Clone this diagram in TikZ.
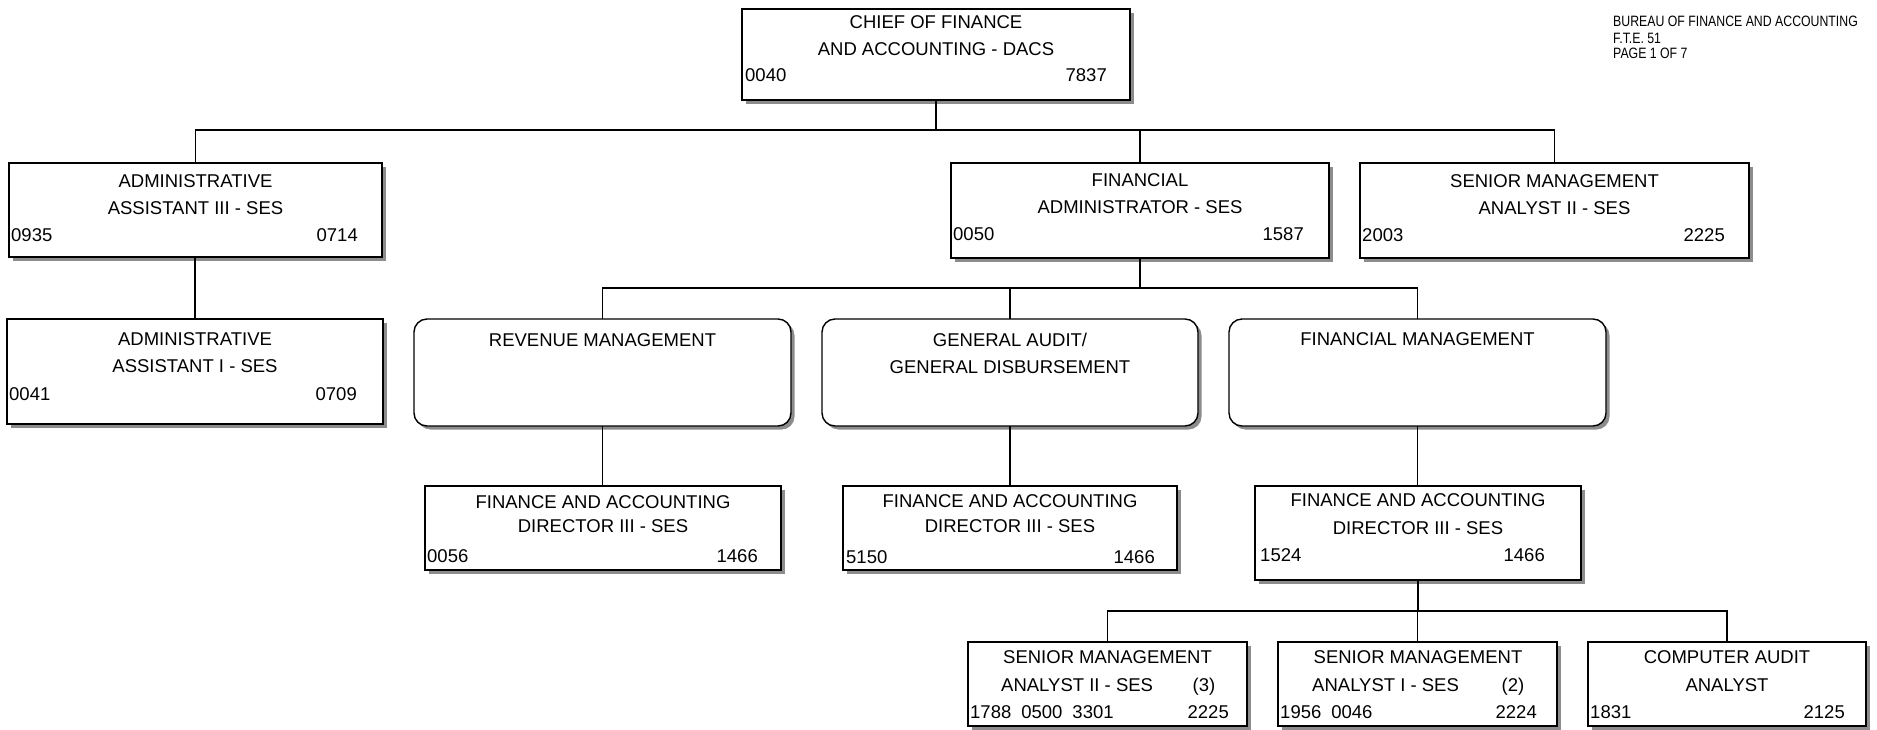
\documentclass[tikz,border=0pt]{standalone}
\usepackage{fontspec}
\setmainfont{Liberation Sans}
\newfontfamily\hdrfont[FakeStretch=0.82]{Liberation Sans}
\usetikzlibrary{shadows}

\tikzset{
  orgbox/.style={draw=black, line width=1.4pt, fill=white, rectangle,
    inner sep=0pt, outer sep=0pt,
    drop shadow={shadow xshift=3.5pt, shadow yshift=-3.5pt, fill=black!45, opacity=1}},
  unitbox/.style={orgbox, rounded corners=13pt},
  ttl/.style={anchor=base, inner sep=0pt, font=\fontsize{18.5pt}{22pt}\selectfont},
  numl/.style={anchor=base west, inner sep=0pt, font=\fontsize{18.5pt}{22pt}\selectfont},
  numr/.style={anchor=base east, inner sep=0pt, font=\fontsize{18.5pt}{22pt}\selectfont},
  hdr/.style={anchor=base west, inner sep=0pt, font=\hdrfont\fontsize{15pt}{17pt}\selectfont},
  link/.style={draw=black, line width=1.3pt},
}

\begin{document}
\begin{tikzpicture}[x=1pt, y=-1pt]
\fill[white] (0,0) rectangle (1877,729);
\useasboundingbox (0,0) rectangle (1877,729);

% page header
\node[hdr] (hdr1) at (1613,26) {BUREAU OF FINANCE AND ACCOUNTING};
\node[hdr] (hdr2) at (1613,43) {F.T.E. 51};
\node[hdr] (hdr3) at (1613,58) {PAGE 1 OF 7};

% ---- boxes ----
\node[orgbox, minimum width=388pt, minimum height=91pt] (chief) at (936,54.5) {};
\node[orgbox, minimum width=373pt, minimum height=94pt] (admin3) at (195.5,210) {};
\node[orgbox, minimum width=378pt, minimum height=95pt] (fa) at (1140,210.5) {};
\node[orgbox, minimum width=389pt, minimum height=95pt] (sma) at (1554.5,210.5) {};
\node[orgbox, minimum width=376pt, minimum height=105pt] (admin1) at (195,371.5) {};
\node[unitbox, minimum width=377pt, minimum height=107pt] (rm) at (602.5,372.5) {};
\node[unitbox, minimum width=376pt, minimum height=107pt] (ga) at (1010,372.5) {};
\node[unitbox, minimum width=377pt, minimum height=107pt] (fm) at (1417.5,372.5) {};
\node[orgbox, minimum width=356pt, minimum height=84pt] (d1) at (603,528) {};
\node[orgbox, minimum width=334pt, minimum height=84pt] (d2) at (1010,528) {};
\node[orgbox, minimum width=326pt, minimum height=94pt] (d3) at (1418,533) {};
\node[orgbox, minimum width=279pt, minimum height=84pt] (sma2) at (1107.5,684) {};
\node[orgbox, minimum width=279pt, minimum height=84pt] (sma1) at (1417.5,684) {};
\node[orgbox, minimum width=278pt, minimum height=84pt] (ca) at (1727,684) {};

% ---- connectors ----
\coordinate (bus1) at (936,130);
\coordinate (bus2) at (1140,288);
\coordinate (bus3) at (1418,611);
\draw[link] (chief.south) -- (bus1);
\draw[link] (admin3.north) -- (admin3.north |- bus1) -- (sma.north |- bus1) -- (sma.north);
\draw[link] (fa.north) -- (fa.north |- bus1);
\draw[link] (admin3.south) -- (admin3.south -| admin1.north) -- (admin1.north);
\draw[link] (fa.south) -- (bus2);
\draw[link] (rm.north) -- (rm.north |- bus2) -- (fm.north |- bus2) -- (fm.north);
\draw[link] (ga.north) -- (ga.north |- bus2);
\draw[link] (rm.south) -- (rm.south |- d1.north);
\draw[link] (ga.south) -- (ga.south |- d2.north);
\draw[link] (fm.south) -- (fm.south |- d3.north);
\draw[link] (d3.south) -- (bus3);
\draw[link] (sma2.north) -- (sma2.north |- bus3) -- (ca.north |- bus3) -- (ca.north);
\draw[link] (sma1.north) -- (sma1.north |- bus3);

% ---- texts ----
\node[ttl] (chief-t1) at (936,28.6) {CHIEF OF FINANCE};
\node[ttl] (chief-t2) at (936,55) {AND ACCOUNTING - DACS};
\node[numl] (chief-l) at (745,81.6) {0040};
\node[numr] (chief-r) at (1107,81.6) {7837};

\node[ttl] (admin3-t1) at (195.5,187.6) {ADMINISTRATIVE};
\node[ttl] (admin3-t2) at (195.5,214.6) {ASSISTANT III - SES};
\node[numl] (admin3-l) at (11,241) {0935};
\node[numr] (admin3-r) at (358,241) {0714};

\node[ttl] (fa-t1) at (1140,186) {FINANCIAL};
\node[ttl] (fa-t2) at (1140,213) {ADMINISTRATOR - SES};
\node[numl] (fa-l) at (953,240.5) {0050};
\node[numr] (fa-r) at (1304,240.5) {1587};

\node[ttl] (sma-t1) at (1554.5,187) {SENIOR MANAGEMENT};
\node[ttl] (sma-t2) at (1554.5,214) {ANALYST II - SES};
\node[numl] (sma-l) at (1362,241) {2003};
\node[numr] (sma-r) at (1725,241) {2225};

\node[ttl] (admin1-t1) at (195,345.6) {ADMINISTRATIVE};
\node[ttl] (admin1-t2) at (195,372.6) {ASSISTANT I - SES};
\node[numl] (admin1-l) at (9,400.3) {0041};
\node[numr] (admin1-r) at (357,400.3) {0709};

\node[ttl] (rm-t1) at (602.5,346) {REVENUE MANAGEMENT};
\node[ttl] (ga-t1) at (1010,346.5) {GENERAL AUDIT/};
\node[ttl] (ga-t2) at (1010,373) {GENERAL DISBURSEMENT};
\node[ttl] (fm-t1) at (1417.5,345.5) {FINANCIAL MANAGEMENT};

\node[ttl] (d1-t1) at (603,508) {FINANCE AND ACCOUNTING};
\node[ttl] (d1-t2) at (603,532.5) {DIRECTOR III - SES};
\node[numl] (d1-l) at (427,562.5) {0056};
\node[numr] (d1-r) at (758,562.5) {1466};

\node[ttl] (d2-t1) at (1010,507.5) {FINANCE AND ACCOUNTING};
\node[ttl] (d2-t2) at (1010,532.5) {DIRECTOR III - SES};
\node[numl] (d2-l) at (846,563) {5150};
\node[numr] (d2-r) at (1155,563) {1466};

\node[ttl] (d3-t1) at (1418,506.5) {FINANCE AND ACCOUNTING};
\node[ttl] (d3-t2) at (1418,534) {DIRECTOR III - SES};
\node[numl] (d3-l) at (1260,561.5) {1524};
\node[numr] (d3-r) at (1545,561.5) {1466};

\node[ttl] (sma2-t1) at (1107.5,663) {SENIOR MANAGEMENT};
\node[numl] (sma2-t2) at (1001,691.5) {ANALYST II - SES};
\node[ttl] (sma2-n) at (1204,691.5) {(3)};
\node[numl] (sma2-l) at (970,718.5) {1788\hspace{10pt}0500\hspace{10pt}3301};
\node[numr] (sma2-r) at (1229,718.5) {2225};

\node[ttl] (sma1-t1) at (1418,663) {SENIOR MANAGEMENT};
\node[numl] (sma1-t2) at (1312,691.5) {ANALYST I - SES};
\node[ttl] (sma1-n) at (1513,691.5) {(2)};
\node[numl] (sma1-l) at (1280,718.5) {1956\hspace{10pt}0046};
\node[numr] (sma1-r) at (1537,718.5) {2224};

\node[ttl] (ca-t1) at (1727,663) {COMPUTER AUDIT};
\node[ttl] (ca-t2) at (1727,691.5) {ANALYST};
\node[numl] (ca-l) at (1590,718.5) {1831};
\node[numr] (ca-r) at (1845,718.5) {2125};
\end{tikzpicture}
\end{document}
